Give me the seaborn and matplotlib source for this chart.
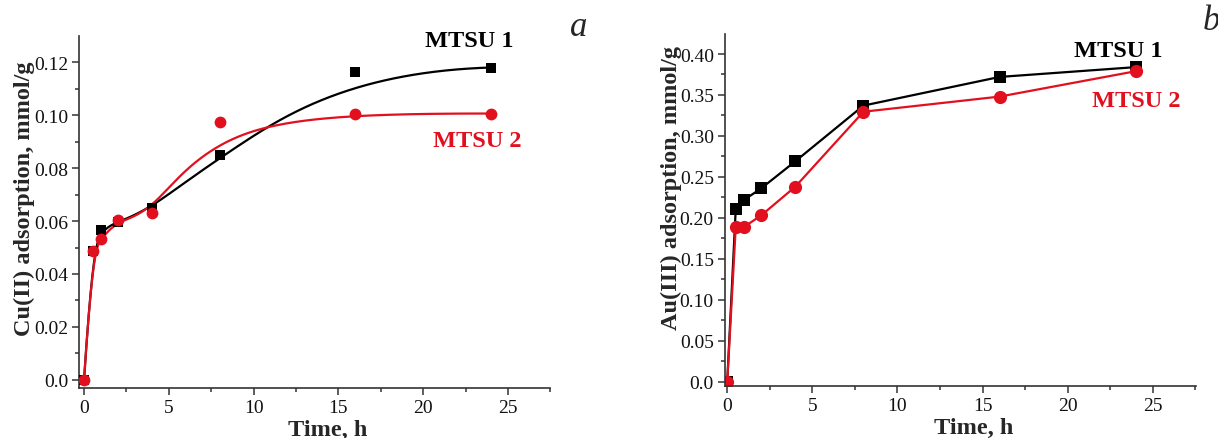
import numpy as np
import pandas as pd
import matplotlib
matplotlib.use("Agg")
import matplotlib.pyplot as plt
import seaborn as sns
from matplotlib.ticker import MultipleLocator, FixedFormatter, FixedLocator

# ---------------- data ----------------
time_h = [0, 0.5, 1, 2, 4, 8, 16, 24]
cu_mtsu1 = [0.0, 0.0486, 0.0568, 0.0597, 0.0648, 0.0849, 0.1165, 0.1181]
cu_mtsu2 = [0.0, 0.0486, 0.0533, 0.0604, 0.0629, 0.0975, 0.1007, 0.1007]
au_mtsu1 = [0.0, 0.211, 0.222, 0.236, 0.269, 0.337, 0.372, 0.384]
au_mtsu2 = [0.0, 0.189, 0.189, 0.203, 0.238, 0.3295, 0.348, 0.379]

cu_yticks = [0.0, 0.02, 0.04, 0.06, 0.08, 0.10, 0.12]
cu_yticklabels = ["0.0", "0.02", "0.04", "0.06", "0.08", "0.10", "0.12"]
au_yticks = [0.0, 0.05, 0.10, 0.15, 0.20, 0.25, 0.30, 0.35, 0.40]
au_yticklabels = ["0.0", "0.05", "0.10", "0.15", "0.20", "0.25", "0.30", "0.35", "0.40"]
xticks = [0, 5, 10, 15, 20, 25]

BLACK = "#000000"
RED = "#E2101E"
SPINE = "#333333"


def bspline_curve(x, y, n=800, p=3):
    """Clamped cubic B-spline using the data points as control points
    (Origin's 'B-Spline' line connection)."""
    P = np.column_stack([np.asarray(x, float), np.asarray(y, float)])
    m = len(P)
    inner = np.linspace(0, 1, m - p + 1)
    knots = np.concatenate([[0.0] * p, inner, [1.0] * p])
    u = np.linspace(0, 1, n)
    u[-1] = 1 - 1e-12
    N = np.zeros((n, len(knots) - 1))
    for i in range(len(knots) - 1):
        N[:, i] = ((u >= knots[i]) & (u < knots[i + 1])).astype(float)
    for k in range(1, p + 1):
        Nn = np.zeros((n, len(knots) - 1 - k))
        for i in range(len(knots) - 1 - k):
            d1 = knots[i + k] - knots[i]
            d2 = knots[i + k + 1] - knots[i + 1]
            a = (u - knots[i]) / d1 * N[:, i] if d1 > 0 else 0
            b = (knots[i + k + 1] - u) / d2 * N[:, i + 1] if d2 > 0 else 0
            Nn[:, i] = a + b
        N = Nn
    C = N @ P
    return C[:, 0], C[:, 1]


sns.set_theme(style="ticks")
plt.rcParams["font.family"] = ["Liberation Serif", "DejaVu Serif"]

fig = plt.figure(figsize=(12.18, 4.39), dpi=100)
ax1 = fig.add_axes([0.0651, 0.1132, 0.3867, 0.8018])
ax2 = fig.add_axes([0.5952, 0.1191, 0.3865, 0.8011])

# ---- panel a (B-spline curves + markers) ----
cx1, cy1 = bspline_curve(time_h, cu_mtsu1)
cx2, cy2 = bspline_curve(time_h, cu_mtsu2)
curve = pd.DataFrame({
    "t": np.concatenate([cx1, cx2]),
    "q": np.concatenate([cy1, cy2]),
    "s": ["MTSU 1"] * len(cx1) + ["MTSU 2"] * len(cx2),
})
pal = {"MTSU 1": BLACK, "MTSU 2": RED}
sns.lineplot(data=curve, x="t", y="q", hue="s", palette=pal, ax=ax1,
             linewidth=1.6, legend=False, sort=False, estimator=None)
sns.scatterplot(x=time_h, y=cu_mtsu1, color=BLACK, marker="s",
                s=58, linewidth=0, ax=ax1, legend=False, zorder=3)
sns.scatterplot(x=time_h, y=cu_mtsu2, color=RED, marker="o",
                s=72, linewidth=0, ax=ax1, legend=False, zorder=4)

# ---- panel b (straight segments + markers) ----
sns.lineplot(x=time_h, y=au_mtsu1, ax=ax2, color=BLACK, marker="s", markersize=8.5,
             markeredgewidth=0, linewidth=1.6)
sns.lineplot(x=time_h, y=au_mtsu2, ax=ax2, color=RED, marker="o", markersize=9.5,
             markeredgewidth=0, linewidth=1.6)

for ax, yt, ytl, ylim, minor, ylabel, ylab_xy, xlab_xy in [
    (ax1, cu_yticks, cu_yticklabels, (-0.00325, 0.1299), 0.01,
     "Cu(II) adsorption, mmol/g", (-0.094, 0.542), (0.528, -0.087)),
    (ax2, au_yticks, au_yticklabels, (-0.0051, 0.4244), 0.025,
     "Au(III) adsorption, mmol/g", (-0.091, 0.565), (0.528, -0.089)),
]:
    ax.set_ylim(*ylim)
    ax.yaxis.set_major_locator(FixedLocator(yt))
    ax.yaxis.set_major_formatter(FixedFormatter(ytl))
    ax.yaxis.set_minor_locator(MultipleLocator(minor))
    ax.xaxis.set_major_locator(FixedLocator(xticks))
    ax.xaxis.set_minor_locator(MultipleLocator(2.5))
    ax.tick_params(which="major", direction="out", length=5, width=1.1, labelsize=14,
                   color=SPINE, labelcolor="#111111", pad=3)
    ax.tick_params(which="minor", direction="out", length=3, width=1.1, color=SPINE)
    for sp in ["left", "bottom"]:
        ax.spines[sp].set_linewidth(1.2)
        ax.spines[sp].set_color(SPINE)
    sns.despine(ax=ax)
    ax.set_xlabel("Time, h", fontsize=17.5, fontweight="bold")
    ax.set_ylabel(ylabel, fontsize=17.5, fontweight="bold")
    ax.yaxis.set_label_coords(*ylab_xy)
    ax.xaxis.set_label_coords(*xlab_xy)

ax1.set_xlim(-0.28, 27.5)
ax2.set_xlim(-0.135, 27.52)

ax1.text(0.827, 0.987, "MTSU 1", transform=ax1.transAxes, ha="center", va="center",
         fontsize=17.5, fontweight="bold", color=BLACK)
ax1.text(0.845, 0.703, "MTSU 2", transform=ax1.transAxes, ha="center", va="center",
         fontsize=17.5, fontweight="bold", color=RED)
ax2.text(0.835, 0.952, "MTSU 1", transform=ax2.transAxes, ha="center", va="center",
         fontsize=17.5, fontweight="bold", color=BLACK)
ax2.text(0.873, 0.810, "MTSU 2", transform=ax2.transAxes, ha="center", va="center",
         fontsize=17.5, fontweight="bold", color=RED)

fig.text(579 / 1218, 1 - 27.5 / 439, "a", fontsize=25, style="italic", ha="center", va="center")
fig.text(1211 / 1218, 1 - 22 / 439, "b", fontsize=25, style="italic", ha="center", va="center")

fig.savefig("out.png", dpi=100, facecolor="white")
